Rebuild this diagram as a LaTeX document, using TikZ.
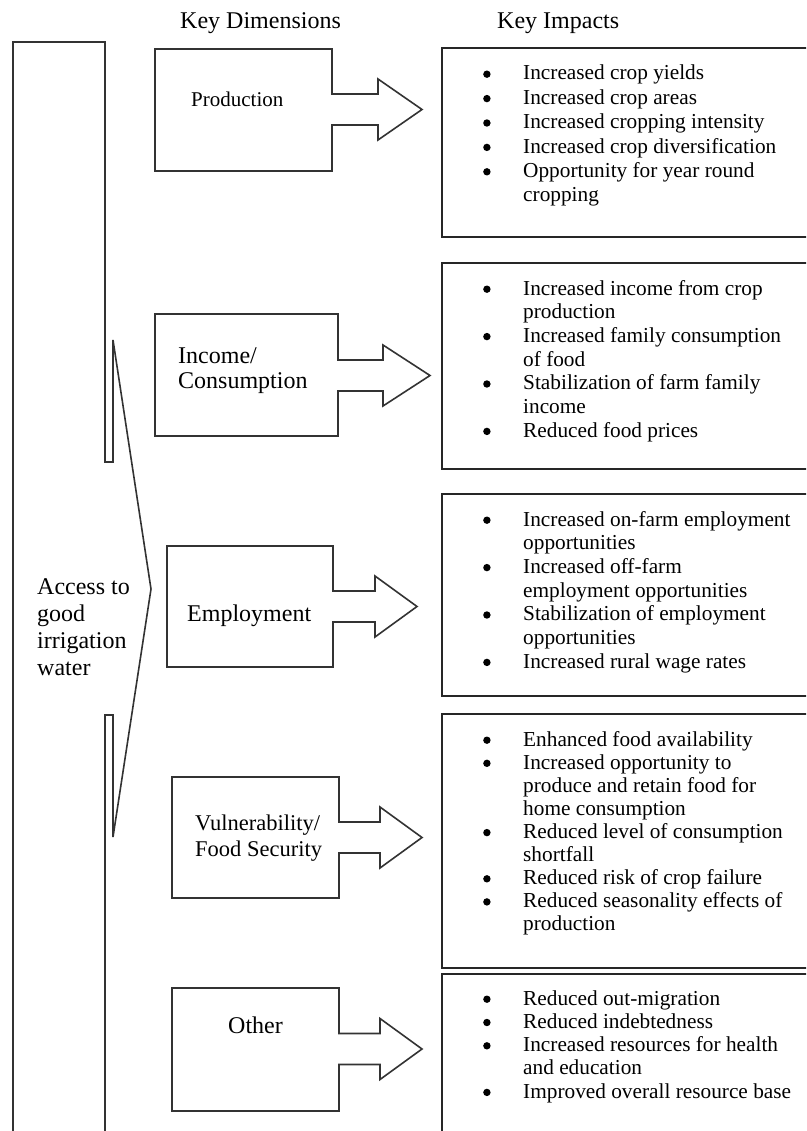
\documentclass[tikz,border=0pt]{standalone}
\usepackage{fontspec}
\setmainfont{Liberation Serif}
\usepackage{array}

% bulleted list set as a top-aligned tabular: bullet column + text column
\newcommand\impactlist[1]{\begin{tabular}[t]{@{}p{40pt}@{}l@{}}#1\end{tabular}}
\newcommand\bul{\tikz[baseline=0pt]\fill[black] (3.7pt,5.8pt) circle[radius=3.7pt];}
\newcommand\lines[1]{\begin{tabular}[t]{@{}l@{}}#1\end{tabular}}

% dimension box with a block arrow on its right side
% #1 left, #2 top, #3 right, #4 bottom, #5 tip y, #6 head x, #7 tip x
\newcommand\dimshape[7]{%
  \draw[outline] (#1,#2) -- (#3,#2) -- (#3,{#5-15.5}) -- (#6,{#5-15.5})
    -- (#6,{#5-30.5}) -- (#7,#5) -- (#6,{#5+30.5}) -- (#6,{#5+15.5})
    -- (#3,{#5+15.5}) -- (#3,#4) -- (#1,#4) -- cycle;}

\tikzset{
  outline/.style={draw=black!80, line width=1.6pt, line join=miter},
  impactbox/.style={draw=black!85, line width=2.1pt},
  label/.style={anchor=base west, inner sep=0pt, text=black},
  header/.style={label, font=\fontsize{24}{27}\selectfont},
  impacts/.style={label, font=\fontsize{21.3}{#1}\selectfont},
}

\begin{document}
\begin{tikzpicture}[x=1pt, y=-1pt]
\useasboundingbox (0,0) rectangle (806,1131);
\clip (0,0) rectangle (806,1131);
\fill[white] (0,0) rectangle (806,1131);

% column headers
\node[header] (hdim) at (180,29) {Key Dimensions};
\node[header] (himp) at (497,29) {Key Impacts};

% source column: tall bar with a pointed bulge to the right
\draw[outline] (13,1140) -- (13,42) -- (105,42) -- (105,462) -- (113,462)
  -- (113,340) -- (151,589) -- (113,837) -- (113,715) -- (105,715) -- (105,1140);
\node[label, font=\fontsize{24}{27}\selectfont] (src) at (37,594)
  {\lines{Access to\\good\\irrigation\\water}};

% key dimensions
\dimshape{155}{49}{332}{171}{109.5}{378}{422}
\node[label, font=\fontsize{21}{24}\selectfont] (prod) at (191,107) {Production};

\dimshape{155}{314}{338}{436}{375.5}{383}{430}
\node[label, font=\fontsize{24}{25}\selectfont] (inc) at (178,363) {\lines{Income/\\Consumption}};

\dimshape{167}{546}{333}{667}{606.5}{375}{417}
\node[label, font=\fontsize{24}{27}\selectfont] (emp) at (187,621) {Employment};

\dimshape{172}{777}{339}{898}{837.5}{380}{422}
\node[label, font=\fontsize{22.5}{26}\selectfont] (vul) at (195,830) {\lines{Vulnerability/\\Food Security}};

\dimshape{172}{988}{339}{1111}{1049}{380}{422}
\node[label, font=\fontsize{24}{27}\selectfont] (oth) at (228,1033) {Other};

% key impacts
\draw[impactbox] (442,48) rectangle (812,237);
\node[impacts=24.4] (i1) at (483,80) {\impactlist{
  \bul & Increased crop yields\\
  \bul & Increased crop areas\\
  \bul & Increased cropping intensity\\
  \bul & Increased crop diversification\\
  \bul & Opportunity for year round\\
       & cropping}};

\draw[impactbox] (442,263) rectangle (812,469);
\node[impacts=23.7] (i2) at (483,295) {\impactlist{
  \bul & Increased income from crop\\
       & production\\
  \bul & Increased family consumption\\
       & of food\\
  \bul & Stabilization of farm family\\
       & income\\
  \bul & Reduced food prices}};

\draw[impactbox] (442,494) rectangle (812,696);
\node[impacts=23.7] (i3) at (483,526) {\impactlist{
  \bul & Increased on-farm employment\\
       & opportunities\\
  \bul & Increased off-farm\\
       & employment opportunities\\
  \bul & Stabilization of employment\\
       & opportunities\\
  \bul & Increased rural wage rates}};

\draw[impactbox] (442,714) rectangle (812,968);
\node[impacts=23.1] (i4) at (483,746) {\impactlist{
  \bul & Enhanced food availability\\
  \bul & Increased opportunity to\\
       & produce and retain food for\\
       & home consumption\\
  \bul & Reduced level of consumption\\
       & shortfall\\
  \bul & Reduced risk of crop failure\\
  \bul & Reduced seasonality effects of\\
       & production}};

\draw[impactbox] (812,974) -- (442,974) -- (442,1140);
\node[impacts=23.3] (i5) at (483,1005) {\impactlist{
  \bul & Reduced out-migration\\
  \bul & Reduced indebtedness\\
  \bul & Increased resources for health\\
       & and education\\
  \bul & Improved overall resource base}};
\end{tikzpicture}
\end{document}
